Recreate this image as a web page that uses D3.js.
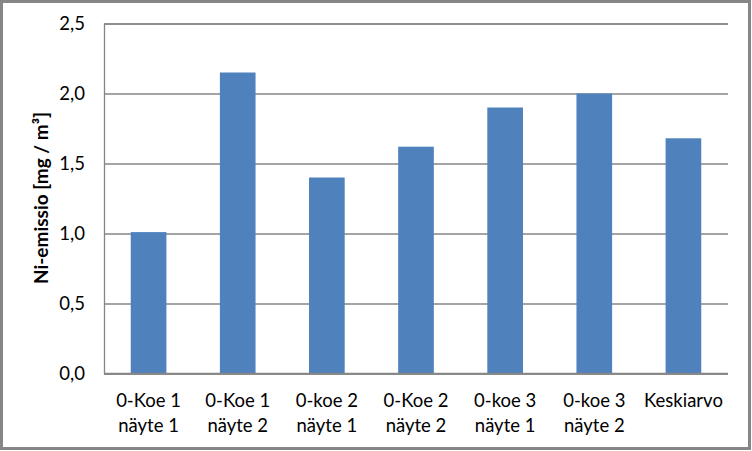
<!DOCTYPE html>
<html>
<head>
<meta charset="utf-8">
<script src="https://cdn.jsdelivr.net/npm/d3@7"></script>
<style>
  body { margin: 0; background: #fff; }
  text { font-family: Lato, "Liberation Sans", sans-serif; fill: #000; }
</style>
</head>
<body>
<script>
var width = 752;
var height = 451;
var barColor = "#4f81bd";
var lineColor = "#868686";

// data
var categories = [
  ["0-Koe 1", "näyte 1"],
  ["0-Koe 1", "näyte 2"],
  ["0-koe 2", "näyte 1"],
  ["0-Koe 2", "näyte 2"],
  ["0-koe 3", "näyte 1"],
  ["0-koe 3", "näyte 2"],
  ["Keskiarvo"]
];
var values = [1.01, 2.15, 1.40, 1.62, 1.90, 2.00, 1.68];
var yTicks = [0, 0.5, 1.0, 1.5, 2.0, 2.5];
var yTitle = "Ni-emissio [mg / m³]";

var plot = {left: 104, right: 728, top: 23.5, bottom: 373.5};

var svg = d3.select("body").append("svg")
    .attr("width", width)
    .attr("height", height);

// outer chart frame
svg.append("rect")
    .attr("x", 1.5)
    .attr("y", 1.5)
    .attr("width", 748)
    .attr("height", 447)
    .attr("fill", "#fff")
    .attr("stroke", lineColor)
    .attr("stroke-width", 3);

var x = d3.scaleBand()
    .domain(d3.range(categories.length))
    .range([plot.left, plot.right])
    .paddingInner(0.6)
    .paddingOuter(0.3);

var y = d3.scaleLinear()
    .domain([0, 2.5])
    .range([plot.bottom, plot.top]);

// gridlines + y axis
var yAxis = d3.axisLeft(y)
    .tickValues(yTicks)
    .tickSize(-(plot.right - plot.left))
    .tickPadding(19)
    .tickFormat(function(d) { return d3.format(".1f")(d).replace(".", ","); });

var gy = svg.append("g")
    .attr("transform", "translate(" + plot.left + ",0)")
    .call(yAxis);
gy.select(".domain").attr("stroke", lineColor).attr("stroke-width", 1.3);
gy.selectAll(".tick line").attr("stroke", lineColor).attr("stroke-width", 1.3);
gy.selectAll(".tick text")
    .attr("font-size", 18.5)
    .attr("font-family", "Lato, 'Liberation Sans', sans-serif")
    .attr("fill", "#000");

// bars
svg.selectAll(".bar")
    .data(values)
    .enter().append("rect")
    .attr("class", "bar")
    .attr("x", function(d, i) { return x(i); })
    .attr("y", function(d) { return y(d); })
    .attr("width", x.bandwidth())
    .attr("height", function(d) { return y(0) - y(d); })
    .attr("fill", barColor);

// x axis line
svg.append("line")
    .attr("x1", plot.left)
    .attr("x2", plot.right)
    .attr("y1", y(0))
    .attr("y2", y(0))
    .attr("stroke", lineColor)
    .attr("stroke-width", 1.3);

// category labels
var labels = svg.selectAll(".cat")
    .data(categories)
    .enter().append("text")
    .attr("class", "cat")
    .attr("text-anchor", "middle")
    .attr("font-size", 18.5)
    .attr("transform", function(d, i) {
        return "translate(" + (x(i) + x.bandwidth() / 2) + "," + 406.5 + ")";
    });
labels.selectAll("tspan")
    .data(function(d) { return d; })
    .enter().append("tspan")
    .attr("x", 0)
    .attr("y", function(d, j) { return j * 25; })
    .text(function(d) { return d; });

// y title
svg.append("text")
    .attr("text-anchor", "middle")
    .attr("font-size", 19)
    .attr("font-weight", "bold")
    .attr("transform", "translate(48,198) rotate(-90)")
    .text(yTitle);
</script>
</body>
</html>
